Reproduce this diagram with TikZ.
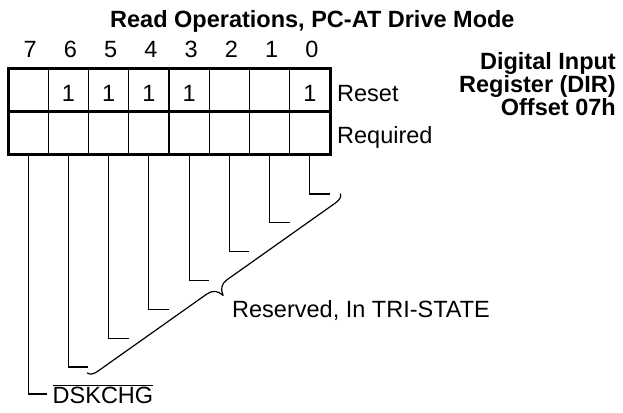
\documentclass[tikz,border=0pt]{standalone}
\usepackage{fontspec}
\setmainfont{Liberation Sans}
\begin{document}
\begin{tikzpicture}[x=1pt,y=1pt,
  lbl/.style={font=\fontsize{23.5}{26}\selectfont, inner sep=0pt},
  blbl/.style={font=\fontsize{23.5}{26}\selectfont\bfseries, inner sep=0pt},
  cell/.style={draw, line width=1.4pt, minimum width=40.25pt, minimum height=43pt, inner sep=0pt, outer sep=0pt},
  thickline/.style={line width=3pt},
  bitline/.style={line width=1.2pt},
  bracepath/.style={line width=1.2pt, line cap=round, line join=round},
]
\useasboundingbox (0,0) rectangle (623,-412);
% title
\node[blbl, anchor=base west] (title) at (110,-27.3) {Read Operations, PC-AT Drive Mode};
% register cells and bit numbers
\foreach \b in {7,6,...,0} {
  \pgfmathsetmacro\xc{8+40.25*(7.5-\b)}
  \node[lbl, anchor=base] (n\b) at (\xc+2,-58) {\b};
  \node[cell] (a\b) at (\xc,-89.5) {};
  \node[cell] (c\b) at (\xc,-132.5) {};
}
% reset values
\foreach \b in {6,5,4,3,0} {
  \node[lbl, anchor=base] (v\b) at ([yshift=-12pt]a\b.center) {1};
}
% thick outline
\draw[thickline] (a7.north west) rectangle (c0.south east);
\draw[thickline] (a7.south west) -- (a0.south east);
% row labels
\node[lbl, anchor=base west] (reset) at (337,-101.5) {Reset};
\node[lbl, anchor=base west] (req) at (337,-143) {Required};
% register name
\node[blbl, anchor=base east] (dir) at (616,-69) {Digital Input};
\node[blbl, anchor=base east] (dir2) at (616,-92) {Register (DIR)};
\node[blbl, anchor=base east] (dir3) at (616,-115) {Offset 07h};
% bit lines
\foreach \b in {0,1,...,6} {
  \pgfmathsetmacro\xc{8+40.25*(7.5-\b)}
  \pgfmathsetmacro\yb{-(194+28.83*\b)}
  \coordinate (e\b) at (\xc+20,\yb);
  \draw[bitline] (c\b.south) |- (e\b);
}
\coordinate (e7) at (47,-394);
\draw[bitline] (c7.south) |- (e7);
% labels
\node[lbl, anchor=base west] (dsk) at (52.5,-403.5) {$\overline{\hbox{DSKCHG}}$};
\node[lbl, anchor=base west] (res) at (232,-317.5) {Reserved, In TRI-STATE};
% brace
\coordinate (bl) at (87.5,-373);
\coordinate (tr) at (341,-193);
\begin{scope}[shift={(bl)}, rotate=35.3]
  \draw[bracepath] (0,0) .. controls (1,-3) and (4,-4.5) .. (10,-4.5)
    -- (143,-4.5) .. controls (150,-4.5) and (154,-8) .. (155.5,-15)
    .. controls (157,-8) and (161,-4.5) .. (168,-4.5)
    -- (300,-4.5) .. controls (306,-4.5) and (309,-3) .. (310,0);
\end{scope}
\end{tikzpicture}
\end{document}
